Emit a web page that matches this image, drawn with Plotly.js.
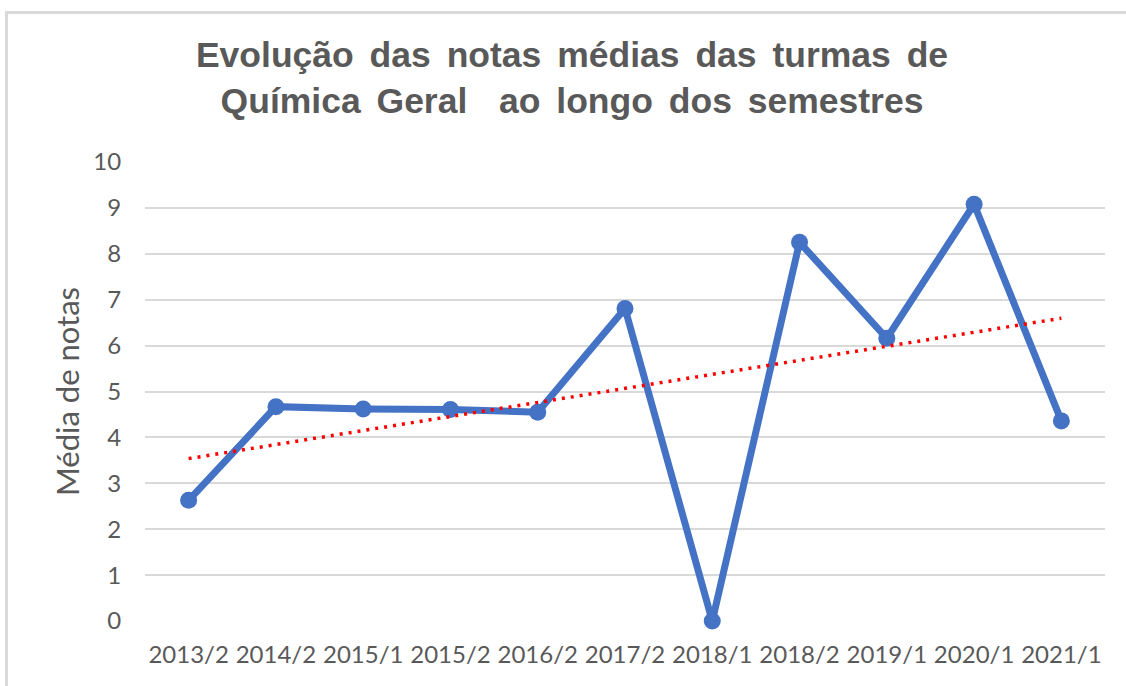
<!DOCTYPE html>
<html>
<head>
<meta charset="utf-8">
<script src="https://cdn.plot.ly/plotly-3.0.1.min.js"></script>
<style>
  html, body { margin: 0; padding: 0; background: #fff; }
  #wrap { position: relative; width: 1126px; height: 686px; overflow: hidden; }
  #chart { position: absolute; left: 0; top: 0; width: 1126px; height: 686px; }
  #frame { position: absolute; left: 5px; top: 11px; width: 1200px; height: 800px;
           border-top: 3px solid #d9d9d9; border-left: 3px solid #d9d9d9; pointer-events: none; }
  .gtitle { letter-spacing: 0px; word-spacing: 6px; }
</style>
</head>
<body>
<div id="wrap">
  <div id="chart"></div>
  <div id="frame"></div>
</div>
<script>
const semesters = ["2013/2","2014/2","2015/1","2015/2","2016/2","2017/2","2018/1","2018/2","2019/1","2020/1","2021/1"];
const mediaNotas = [2.63, 4.67, 4.62, 4.61, 4.55, 6.81, 0.0, 8.25, 6.16, 9.08, 4.36];
const yTicks = [0,1,2,3,4,5,6,7,8,9,10];

// Linear trendline (least squares over category index), as in the original spreadsheet
const n = mediaNotas.length;
const xs = mediaNotas.map((_, i) => i + 1);
const mx = xs.reduce((a, b) => a + b, 0) / n;
const my = mediaNotas.reduce((a, b) => a + b, 0) / n;
let sxy = 0, sxx = 0;
for (let i = 0; i < n; i++) { sxy += (xs[i] - mx) * (mediaNotas[i] - my); sxx += (xs[i] - mx) * (xs[i] - mx); }
const slope = sxy / sxx;
const intercept = my - slope * mx;
const trendX = [semesters[0], semesters[n - 1]];
const trendY = [intercept + slope * xs[0], intercept + slope * xs[n - 1]];

const data = [
  {
    x: semesters, y: mediaNotas, type: 'scatter', mode: 'lines+markers',
    line: { color: '#4472C4', width: 7 },
    marker: { color: '#4472C4', size: 17 },
    cliponaxis: false, hoverinfo: 'x+y', name: 'Média'
  },
  {
    x: trendX, y: trendY, type: 'scatter', mode: 'lines',
    line: { color: '#FF0000', width: 3.5, dash: '3px,6px' },
    cliponaxis: false, hoverinfo: 'skip', name: 'Tendência'
  }
];

const layout = {
  width: 1126, height: 686,
  margin: { l: 145, r: 21, t: 162, b: 65, pad: 0 },
  paper_bgcolor: 'rgba(0,0,0,0)', plot_bgcolor: 'rgba(0,0,0,0)',
  showlegend: false,
  title: {
    text: 'Evolução das notas médias das turmas de<br>Química Geral&nbsp; ao longo dos semestres',
    font: { family: 'Liberation Sans, Arial, sans-serif', size: 35.5, color: '#595959', weight: 'bold' },
    x: 0.508, xanchor: 'center', xref: 'container',
    y: 0.902, yanchor: 'top', yref: 'container'
  },
  xaxis: {
    type: 'category', range: [-0.5, 10.5],
    showgrid: false, zeroline: false, showline: false,
    ticks: 'outside', ticklen: 12, tickcolor: 'rgba(0,0,0,0)',
    tickfont: { family: 'Lato, sans-serif', size: 24, color: '#595959' }
  },
  yaxis: {
    range: [0, 10], tickvals: yTicks, ticktext: yTicks.map(String),
    showgrid: true, gridcolor: '#d9d9d9', gridwidth: 2,
    zeroline: false, showline: false,
    ticks: 'outside', ticklen: 18, tickcolor: 'rgba(0,0,0,0)',
    tickfont: { family: 'Lato, sans-serif', size: 24, color: '#595959' },
    title: { text: 'Média de notas', font: { family: 'Lato, sans-serif', size: 31, color: '#595959' }, standoff: 4 }
  }
};

Plotly.newPlot('chart', data, layout, { displayModeBar: false, staticPlot: false });
</script>
</body>
</html>
